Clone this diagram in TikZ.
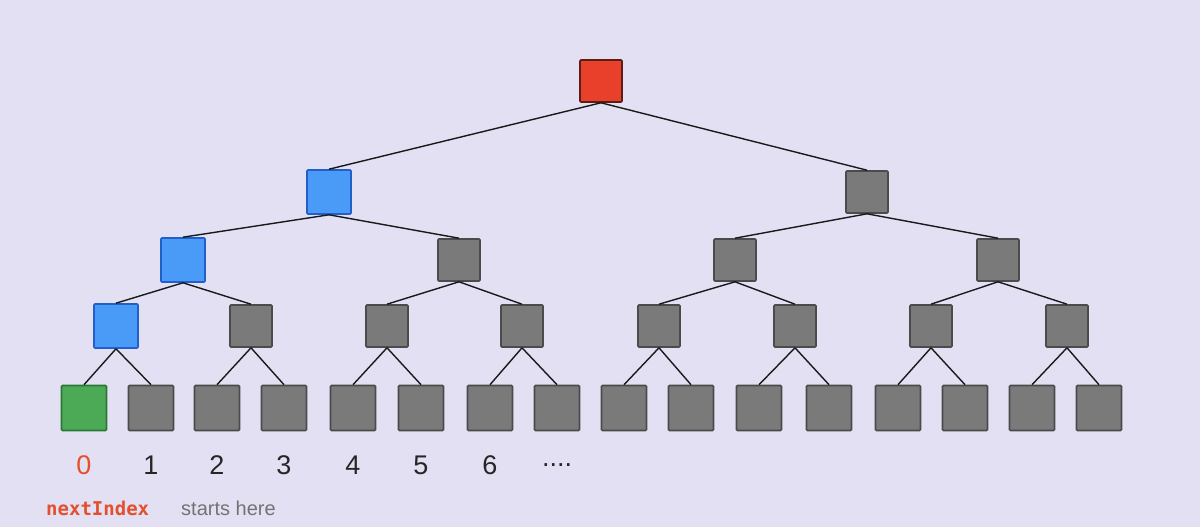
\documentclass[tikz,border=0pt]{standalone}
\usepackage{fontspec}
\setmainfont{Liberation Sans}
\setmonofont{DejaVu Sans Mono}
\definecolor{bg}{RGB}{227,224,243}
\definecolor{gfill}{RGB}{122,122,122}
\definecolor{gdraw}{RGB}{75,75,75}
\definecolor{bfill}{RGB}{74,155,247}
\definecolor{bdraw}{RGB}{32,96,200}
\definecolor{rfill}{RGB}{232,64,42}
\definecolor{rdraw}{RGB}{90,30,20}
\definecolor{nfill}{RGB}{76,170,86}
\definecolor{ndraw}{RGB}{40,120,50}
\definecolor{rtext}{RGB}{226,80,45}
\begin{document}
\begin{tikzpicture}[x=1pt,y=-1pt,
  nd/.style={line width=1.6pt, minimum size=#1, inner sep=0pt, rounded corners=1pt},
  gr/.style={nd=42pt, fill=gfill, draw=gdraw},
  lf/.style={nd=45pt, fill=gfill, draw=gdraw},
  bl/.style={nd=44pt, fill=bfill, draw=bdraw},
  rd/.style={nd=42pt, fill=rfill, draw=rdraw},
  gn/.style={nd=45pt, fill=nfill, draw=ndraw},
  ed/.style={line width=1.4pt, black!90},
  num/.style={font=\fontsize{27}{30}\selectfont, text=black!85}]
\fill[bg] (0,0) rectangle (1200,527);
\node[rd] (r) at (601,81) {};
\node[bl] (a) at (329,192) {};
\node[gr] (b) at (867,192) {};
\node[bl] (c1) at (183,260) {};
\node[gr] (c2) at (459,260) {};
\node[gr] (c3) at (735,260) {};
\node[gr] (c4) at (998,260) {};
\foreach \x [count=\i] in {116,251,387,522,659,795,931,1067} {
  \ifnum\i=1 \node[bl] (d\i) at (\x,326) {}; \else \node[gr] (d\i) at (\x,326) {}; \fi }
\foreach \x [count=\i] in {84,151,217,284,353,421,490,557,624,691,759,829,898,965,1032,1099} {
  \ifnum\i=1 \node[gn] (e\i) at (\x,408) {}; \else \node[lf] (e\i) at (\x,408) {}; \fi }
\draw[ed] (r.south) -- (a.north); \draw[ed] (r.south) -- (b.north);
\draw[ed] (a.south) -- (c1.north); \draw[ed] (a.south) -- (c2.north);
\draw[ed] (b.south) -- (c3.north); \draw[ed] (b.south) -- (c4.north);
\foreach \p/\l/\rr in {c1/d1/d2,c2/d3/d4,c3/d5/d6,c4/d7/d8} {
  \draw[ed] (\p.south) -- (\l.north); \draw[ed] (\p.south) -- (\rr.north);}
\foreach \p [evaluate=\p as \l using int(2*\p-1), evaluate=\p as \rr using int(2*\p)] in {1,...,8} {
  \draw[ed] (d\p.south) -- (e\l.north); \draw[ed] (d\p.south) -- (e\rr.north);}
\node[num, text=rtext] (n0) at (84,465) {0};
\foreach \x/\t in {151/1,217/2,284/3,353/4,421/5,490/6} \node[num] (n\t) at (\x,465) {\t};
\node[num] (nd) at (557,465) {....};
\node[font=\ttfamily\fontsize{19}{22}\selectfont\bfseries, text=rtext, anchor=west, inner sep=0pt] (ni) at (46,508) {nextIndex};
\node[font=\fontsize{20}{22}\selectfont, text=black!55, anchor=west, inner sep=0pt] (sh) at (181,508) {starts here};
\end{tikzpicture}
\end{document}
